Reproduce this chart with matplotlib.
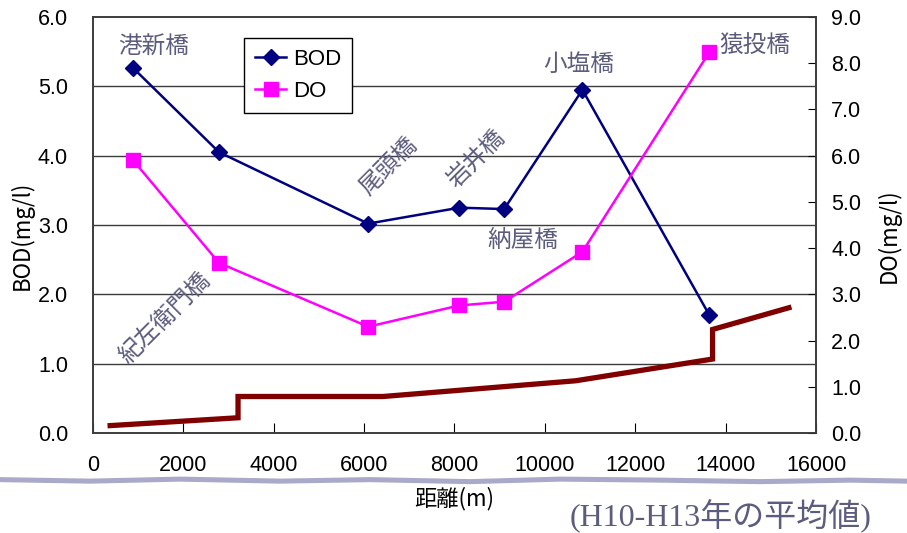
import numpy as np
import matplotlib.pyplot as plt
from matplotlib.lines import Line2D

plt.rcParams['font.family'] = ['Liberation Sans', 'Noto Sans CJK JP']

# distance from river mouth (m) at each observation bridge
distance = [880, 2790, 6090, 8110, 9100, 10830, 13640]
bridges = ["港新橋", "紀左衛門橋", "尾頭橋", "岩井橋", "納屋橋", "小塩橋", "猿投橋"]
bod = [5.27, 4.05, 3.02, 3.25, 3.23, 4.95, 1.70]
do = [5.91, 3.68, 2.30, 2.76, 2.84, 3.92, 8.24]

# river bed profile (drawn against the right axis)
profile_x = [380, 3210, 3210, 6420, 10680, 13710, 13710, 15400]
profile_y = [0.16, 0.33, 0.79, 0.79, 1.13, 1.60, 2.24, 2.71]

# where each bridge name sits (x, y, rotation)
name_pos = [(1350, 5.57, 0), (1593, 1.66, 45), (6550, 3.84, 45), (8476, 3.95, 45),
            (9516, 2.78, 0), (10755, 5.32, 0), (14650, 5.57, 0)]

label_color = "#5c5c7e"
jp = ["Noto Sans CJK JP", "DejaVu Sans"]

fig = plt.figure(figsize=(9.07, 5.33), dpi=100)
ax = fig.add_axes([0.1025, 0.1876, 0.7972, 0.7805])
ax2 = ax.twinx()

ax.set_xlim(0, 16000)
ax.set_ylim(0, 6)
ax2.set_ylim(0, 9)

for y in [1, 2, 3, 4, 5]:
    ax.axhline(y, color="#3c3c3c", lw=1.0, zorder=1)

ax2.plot(profile_x, profile_y, color="#800000", lw=3.8, solid_joinstyle="miter", zorder=2)
ax.plot(distance, bod, color="#000080", lw=1.8, marker="D", markersize=8, zorder=4)
ax2.plot(distance, do, color="#ff00ff", lw=1.8, marker="s", markersize=10, zorder=4)

ax.set_xticks(np.arange(0, 16001, 2000))
ax.set_yticks(np.arange(0, 6.01, 1.0))
ax.set_yticklabels(["%.1f" % v for v in np.arange(0, 6.01, 1.0)])
ax2.set_yticks(np.arange(0, 9.01, 1.0))
ax2.set_yticklabels(["%.1f" % v for v in np.arange(0, 9.01, 1.0)])

ax.tick_params(axis="x", direction="in", length=7, pad=16, labelsize=15.5)
ax.tick_params(axis="y", length=0, pad=18, labelsize=15.5)
ax2.tick_params(axis="y", direction="in", length=6, pad=11, labelsize=15.5)
for a in (ax, ax2):
    for s in a.spines.values():
        s.set_color("#3c3c3c")
        s.set_linewidth(1.2)

ax.set_ylabel("BOD(mg/l)", fontsize=16, family=jp)
ax.yaxis.set_label_coords(-0.082, 0.475)
ax2.set_ylabel("DO(mg/l)", fontsize=16, family=jp)
ax2.yaxis.set_label_coords(1.084, 0.475)
ax.set_xlabel("距離(m)", fontsize=16, family=jp)
ax.xaxis.set_label_coords(0.50, -0.13)

for name, (x, y, rot) in zip(bridges, name_pos):
    ax.text(x, y, name, color=label_color, fontsize=17, ha="center", va="center",
            rotation=rot, family=jp, rotation_mode="anchor")

handles = [Line2D([], [], color="#000080", lw=1.8, marker="D", markersize=8),
           Line2D([], [], color="#ff00ff", lw=1.8, marker="s", markersize=10)]
leg = ax.legend(handles, ["BOD", "DO"], loc="upper left", bbox_to_anchor=(0.209, 0.9495),
                fontsize=16, handlelength=1.4, handletextpad=0.3, borderpad=0.5,
                labelspacing=0.5, fancybox=False, framealpha=1, edgecolor="black",
                borderaxespad=0)
leg.get_frame().set_linewidth(1.0)
leg.set_zorder(5)

# wavy band under the axis labels
wx = np.array([0, 90, 180, 280, 370, 470, 560, 660, 760, 850, 907]) / 907
wy = np.array([479.5, 481, 479, 481, 479.5, 481.5, 479, 480, 481.5, 480, 481])
wy = 1 - wy / 533
fig.patches.append(plt.Polygon(
    np.column_stack([np.r_[wx, wx[::-1]], np.r_[wy + 0.0045, (wy - 0.0050)[::-1]]]),
    closed=True, transform=fig.transFigure, facecolor="#a9a9c9", edgecolor="none"))

fig.text(0.794, 0.032, "(H10-H13年の平均値)", color=label_color, fontsize=23,
         ha="center", va="center", family=["Liberation Serif", "Noto Sans CJK JP"])

fig.savefig("out.png", dpi=100)
